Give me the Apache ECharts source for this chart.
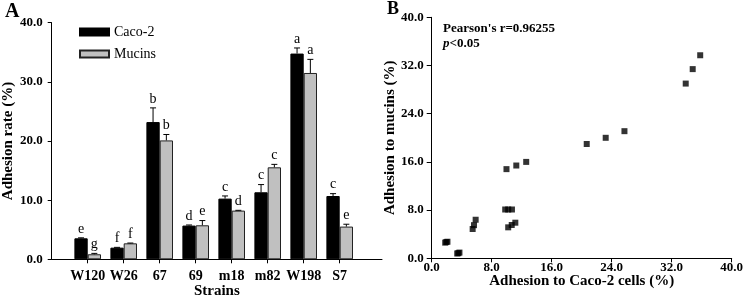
<!DOCTYPE html>
<html>
<head>
<meta charset="utf-8">
<script src="https://cdn.jsdelivr.net/npm/echarts@6/dist/echarts.min.js"></script>
<style>
  html, body { margin: 0; padding: 0; background: #fff; }
  #chart { width: 744px; height: 296px; }
</style>
</head>
<body>
<div id="chart"></div>
<script>
// panel A: adhesion rate per strain
const strains = ['W120', 'W26', '67', '69', 'm18', 'm82', 'W198', 'S7']
const cacoRate = [3.55, 1.97, 23.2, 5.7, 10.26, 11.33, 34.78, 10.7]
const cacoErr = [0.08, 0.05, 2.4, 0.1, 0.45, 1.3, 0.95, 0.4]
const cacoLetters = ['e', 'f', 'b', 'd', 'c', 'c', 'a', 'c']
const mucinRate = [0.85, 2.7, 20.1, 5.75, 8.23, 15.55, 31.5, 5.53]
const mucinErr = [0.15, 0.05, 1.0, 0.8, 0.05, 0.5, 2.3, 0.4]
const mucinLetters = ['g', 'f', 'b', 'e', 'd', 'c', 'a', 'e']

// panel B: caco-2 vs mucins, replicate points
const cacoPoints = [3.4, 3.55, 3.7, 1.8, 1.95, 2.1, 5.46, 5.64, 5.86, 9.8, 10.2, 10.7,
  10.2, 10.67, 11.15, 9.97, 11.28, 12.6, 20.67, 23.2, 25.7, 33.87, 34.8, 35.8]
const mucinPoints = [0.8, 0.85, 0.95, 2.6, 2.7, 2.75, 4.86, 5.5, 6.4, 8.1, 8.1, 8.1,
  5.14, 5.53, 5.91, 14.8, 15.4, 16.0, 18.97, 20.0, 21.1, 29.0, 31.4, 33.7]
const pearsonText = "Pearson's r=0.96255"

const serif = '"Liberation Serif", "Times New Roman", serif'
const BAR_W = 13.3

const chart = echarts.init(document.getElementById('chart'))

function errorSeries(name, values, errs, letters, shift) {
  return {
    name: name + '-err',
    type: 'custom',
    xAxisIndex: 0,
    yAxisIndex: 0,
    silent: true,
    z: 5,
    data: values.map((v, i) => [i, v, v + errs[i]]),
    renderItem: (params, api) => {
      const base = api.coord([api.value(0), api.value(1)])
      const top = api.coord([api.value(0), api.value(2)])
      const x = base[0] + shift
      const line = { stroke: '#000', lineWidth: 1 }
      return {
        type: 'group',
        children: [
          { type: 'line', shape: { x1: x, y1: base[1], x2: x, y2: top[1] }, style: line },
          { type: 'line', shape: { x1: x - 3, y1: top[1], x2: x + 3, y2: top[1] }, style: line },
          {
            type: 'text',
            x: x,
            y: top[1] - 2,
            style: {
              text: letters[params.dataIndex],
              font: '14px ' + serif,
              fill: '#000',
              align: 'center',
              verticalAlign: 'bottom'
            }
          }
        ]
      }
    }
  }
}

const axisText = { color: '#000', fontFamily: serif, fontWeight: 'bold', fontSize: 13 }
const nameText = { color: '#000', fontFamily: serif, fontWeight: 'bold', fontSize: 15 }

const option = {
  animation: false,
  backgroundColor: '#fff',
  textStyle: { fontFamily: serif },
  legend: {
    data: ['Caco-2', 'Mucins'],
    orient: 'vertical',
    left: 74,
    top: 20,
    itemWidth: 29,
    itemHeight: 7,
    itemGap: 8,
    icon: 'rect',
    textStyle: { color: '#000', fontFamily: serif, fontSize: 14 }
  },
  grid: [
    { left: 51.7, top: 22.7, width: 330.3, height: 236.6, outerBoundsMode: 'none', containLabel: false },
    { left: 431.7, top: 17.3, width: 300, height: 241, outerBoundsMode: 'none', containLabel: false }
  ],
  xAxis: [
    {
      type: 'value',
      gridIndex: 0,
      position: 'bottom',
      min: -1,
      max: 8.175,
      interval: 1,
      name: 'Strains',
      nameLocation: 'middle',
      nameGap: 24,
      nameMoveOverlap: false,
      nameTextStyle: nameText,
      axisLine: { onZero: false, lineStyle: { color: '#000', width: 1 } },
      axisTick: { customValues: [0, 1, 2, 3, 4, 5, 6, 7], length: 4, lineStyle: { color: '#000' } },
      axisLabel: {
        customValues: [0, 1, 2, 3, 4, 5, 6, 7],
        formatter: v => strains[v] || '',
        margin: 10,
        ...axisText,
        fontSize: 14
      },
      splitLine: { show: false }
    },
    {
      type: 'value',
      gridIndex: 1,
      position: 'bottom',
      min: 0,
      max: 40,
      interval: 8,
      name: 'Adhesion to Caco-2 cells (%)',
      nameLocation: 'middle',
      nameGap: 15,
      nameMoveOverlap: false,
      nameTextStyle: nameText,
      axisLine: { onZero: false, lineStyle: { color: '#000', width: 1 } },
      axisTick: { length: 4, lineStyle: { color: '#000' } },
      axisLabel: { formatter: v => v.toFixed(1), margin: 3, ...axisText },
      splitLine: { show: false }
    }
  ],
  yAxis: [
    {
      type: 'value',
      gridIndex: 0,
      position: 'left',
      min: 0,
      max: 40,
      interval: 10,
      name: 'Adhesion rate (%)',
      nameLocation: 'middle',
      nameGap: 36,
      nameMoveOverlap: false,
      nameTextStyle: nameText,
      axisLine: { show: true, onZero: false, lineStyle: { color: '#000', width: 1 } },
      axisTick: { show: true, length: 4, lineStyle: { color: '#000' } },
      axisLabel: { formatter: v => v.toFixed(1), margin: 9, ...axisText },
      splitLine: { show: false }
    },
    {
      type: 'value',
      gridIndex: 1,
      position: 'left',
      min: 0,
      max: 40,
      interval: 8,
      name: 'Adhesion to mucins (%)',
      nameLocation: 'middle',
      nameGap: 34,
      nameMoveOverlap: false,
      nameTextStyle: nameText,
      axisLine: { show: true, onZero: false, lineStyle: { color: '#000', width: 1 } },
      axisTick: { show: true, length: 5, lineStyle: { color: '#000' } },
      axisLabel: { formatter: v => v.toFixed(1), margin: 8, ...axisText },
      splitLine: { show: false }
    }
  ],
  graphic: [
    { type: 'text', left: 5, top: 2, style: { text: 'A', font: 'bold 20px ' + serif, fill: '#000' } },
    { type: 'text', left: 387, top: 0, style: { text: 'B', font: 'bold 18px ' + serif, fill: '#000' } },
    { type: 'text', left: 443, top: 22, style: { text: pearsonText, font: 'bold 13px ' + serif, fill: '#000' } },
    {
      type: 'text', left: 443, top: 37,
      style: {
        text: '{i|p}{b|<0.05}',
        rich: {
          i: { font: 'italic bold 13px ' + serif, fill: '#000' },
          b: { font: 'bold 13px ' + serif, fill: '#000' }
        }
      }
    }
  ],
  series: [
    {
      name: 'Caco-2',
      type: 'bar',
      xAxisIndex: 0,
      yAxisIndex: 0,
      barWidth: BAR_W,
      barGap: '0%',
      itemStyle: { color: '#000', borderColor: '#000', borderWidth: 1 },
      data: cacoRate.map((v, i) => [i, v])
    },
    {
      name: 'Mucins',
      type: 'bar',
      xAxisIndex: 0,
      yAxisIndex: 0,
      barWidth: BAR_W,
      barGap: '0%',
      itemStyle: { color: '#c0c0c0', borderColor: '#222', borderWidth: 1 },
      data: mucinRate.map((v, i) => [i, v])
    },
    errorSeries('Caco-2', cacoRate, cacoErr, cacoLetters, -BAR_W / 2),
    errorSeries('Mucins', mucinRate, mucinErr, mucinLetters, BAR_W / 2),
    {
      name: 'scatter',
      type: 'scatter',
      xAxisIndex: 1,
      yAxisIndex: 1,
      symbol: 'rect',
      symbolSize: 6,
      itemStyle: { color: '#000' },
      data: cacoPoints.map((v, i) => [v, mucinPoints[i]])
    }
  ]
}

chart.setOption(option)
</script>
</body>
</html>
